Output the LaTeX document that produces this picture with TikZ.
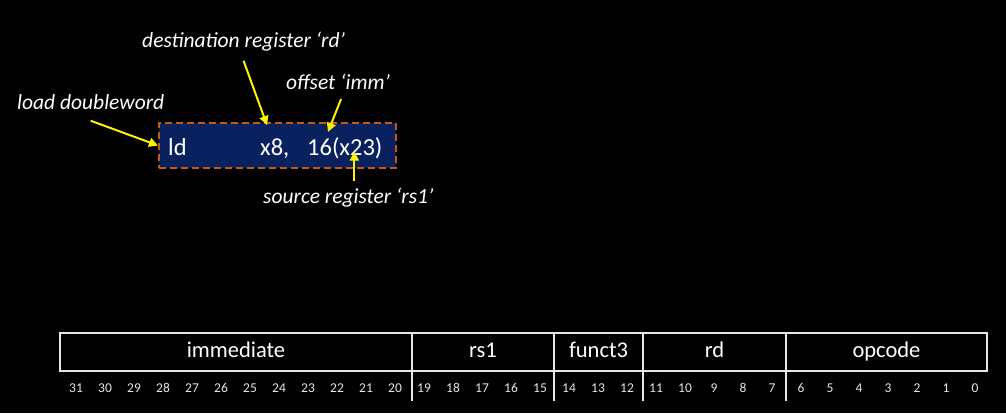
\documentclass[tikz,border=0pt]{standalone}
\usepackage{fontspec}
\setmainfont[Numbers=Lining]{Carlito}
\usetikzlibrary{positioning, calc, arrows.meta}

\definecolor{navy}{HTML}{0A215F}
\definecolor{rust}{HTML}{C55A11}
\definecolor{rule}{HTML}{E6E6E6}

\begin{document}
\begin{tikzpicture}[x=1pt, y=-1pt,
    field/.style={draw=rule, line width=1.3pt, minimum height=38pt, inner sep=0pt,
      outer sep=0pt, text=white, text height=11pt, text depth=0pt,
      font=\fontsize{22.5}{26}\selectfont},
    bit/.style={text=rule, inner sep=0pt, text height=9pt, text depth=0pt,
      font=\fontsize{13.5}{16}\selectfont},
    asm/.style={text=white, inner sep=0pt, anchor=base west, font=\fontsize{24.5}{28}\selectfont},
    note/.style={text=white, inner sep=0pt, anchor=west, font=\fontsize{21.5}{25}\selectfont\itshape},
    pointer/.style={-{Triangle[length=9pt,width=9pt]}, yellow, line width=2pt}]

  \useasboundingbox[fill=black] (0,0) rectangle (1006,413);

  % instruction
  \node[draw=rust, fill=navy, line width=2pt, dash pattern=on 7pt off 4pt,
    minimum width=237pt, minimum height=45pt, anchor=north west] (instr) at (158,122) {};
  \node[asm] (ldtxt) at (168,155) {ld};
  \node[asm] (xeight) at (260,155) {x8,};
  \node[asm] (srctxt) at (307,155) {16(x23)};

  \node[note] (ldnote) at (17,102) {load doubleword};
  \node[note] (rdnote) at (142,42) {destination register ‘rd’};
  \node[note] (immnote) at (286,82) {offset ‘imm’};
  \node[note] (rs1note) at (263,198) {source register ‘rs1’};

  \draw[pointer] ([yshift=-11pt]ldnote.south) -- (instr.west);
  \draw[pointer] ([yshift=-9pt]rdnote.south) -- ([shift={(7pt,13pt)}]xeight.north west);
  \draw[pointer] ([shift={(3pt,-9pt)}]immnote.south) -- ([shift={(21pt,5pt)}]srctxt.north west);
  \draw[pointer] ([shift={(6pt,7pt)}]rs1note.north) -- ([shift={(6pt,7pt)}]rs1note.north |- srctxt.south);

  % encoding
  \node[field, minimum width=352pt] (imm) at (236,352) {immediate};
  \node[field, minimum width=142pt, right=0pt of imm] (rs1) {rs1};
  \node[field, minimum width=89pt, right=0pt of rs1] (funct) {funct3};
  \node[field, minimum width=143pt, right=0pt of funct] (rd) {rd};
  \node[field, minimum width=201pt, right=0pt of rd] (opcode) {opcode};

  \foreach \f in {imm, rs1, funct, rd}
    \draw[draw=rule, line width=1.3pt] (\f.south east) -- ++(0,30);

  \foreach \b in {0,...,31}
    \node[bit] (b\b) at ({76+29*(31-\b)},388) {\b};
\end{tikzpicture}
\end{document}
